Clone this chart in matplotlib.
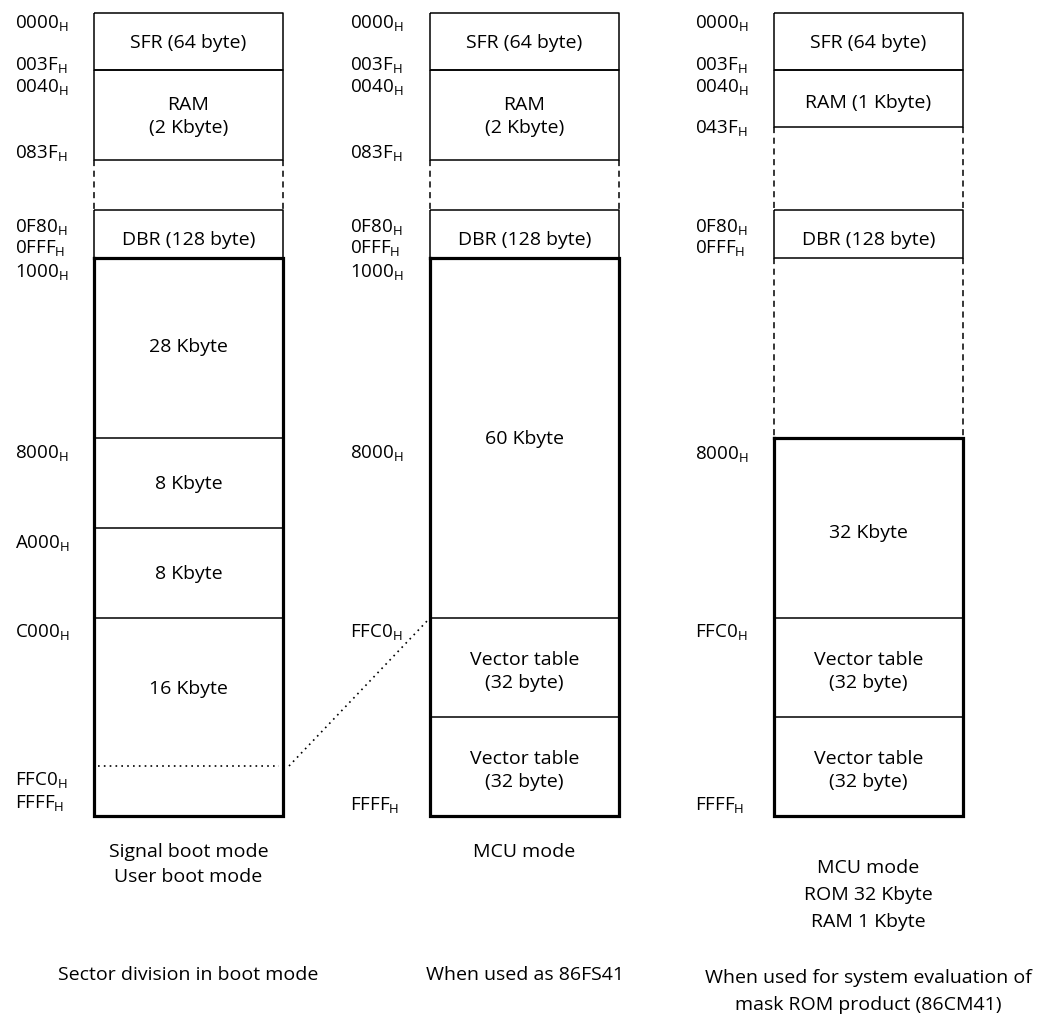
import matplotlib
matplotlib.use('Agg')
import matplotlib.pyplot as plt

plt.rcParams['font.family'] = ['Open Sans', 'DejaVu Sans']
plt.rcParams['mathtext.fontset'] = 'custom'
plt.rcParams['mathtext.rm'] = 'Open Sans'

# --- data: address labels and block names of the three memory maps ---
boot_addr = ['0000', '003F', '0040', '083F', '0F80', '0FFF', '1000',
             '8000', 'A000', 'C000', 'FFC0', 'FFFF']
mcu_addr = ['0000', '003F', '0040', '083F', '0F80', '0FFF', '1000',
            '8000', 'FFC0', 'FFFF']
eval_addr = ['0000', '003F', '0040', '043F', '0F80', '0FFF',
             '8000', 'FFC0', 'FFFF']

boot_blocks = ['SFR (64 byte)', 'RAM\n(2 Kbyte)', 'DBR (128 byte)',
               '28 Kbyte', '8 Kbyte', '8 Kbyte', '16 Kbyte']
mcu_blocks = ['SFR (64 byte)', 'RAM\n(2 Kbyte)', 'DBR (128 byte)',
              '60 Kbyte', 'Vector table\n(32 byte)', 'Vector table\n(32 byte)']
eval_blocks = ['SFR (64 byte)', 'RAM (1 Kbyte)', 'DBR (128 byte)',
               '32 Kbyte', 'Vector table\n(32 byte)', 'Vector table\n(32 byte)']

modes = ['Signal boot mode\nUser boot mode', 'MCU mode',
         'MCU mode\nROM 32 Kbyte\nRAM 1 Kbyte']
captions = ['Sector division in boot mode', 'When used as 86FS41',
            'When used for system evaluation of\nmask ROM product (86CM41)']

# --- layout (pixel coordinates, y downwards) ---
W, H = 1039, 1022
box_left = [94, 430, 774]
box_w = 189
addr_x = [15, 350, 695]

boot_addr_y = [28, 70, 92, 158, 232, 253, 277, 458, 548, 637, 785, 808]
mcu_addr_y = [28, 70, 92, 158, 232, 253, 277, 458, 637, 810]
eval_addr_y = [28, 70, 92, 133, 232, 253, 459, 637, 810]

# thin boxes on top: (top, bottom)
small_boxes = [[(13, 70), (70, 160), (210, 258)],
               [(13, 70), (70, 160), (210, 258)],
               [(13, 70), (70, 127), (210, 258)]]
gaps = [[(160, 210)], [(160, 210)], [(127, 210), (258, 438)]]

# thick frames: (top, bottom, dividers)
frames = [(258, 816, [438, 528, 618]),
          (258, 816, [618, 717]),
          (438, 816, [618, 717])]

# first-line baselines of the block texts and line step
block_base = [[48, 110, 245, 352, 489, 579, 694],
              [48, 110, 245, 444, 665, 764],
              [48, 108, 245, 538, 665, 764]]
block_step = 23

mode_base = [857, 857, 873]
mode_step = [25, 25, 27]
caption_base = [980, 980, 983]
caption_step = 27

fig = plt.figure(figsize=(W / 100, H / 100), dpi=100)
ax = fig.add_axes([0, 0, 1, 1])
ax.set_xlim(0, W)
ax.set_ylim(H, 0)
ax.axis('off')

FS = 14
thin = 1.1
thick = 2.3


def put_lines(x, y0, step, text):
    for k, line in enumerate(text.split('\n')):
        ax.text(x, y0 + k * step, line, fontsize=FS, ha='center',
                va='baseline')


columns = [
    (boot_addr, boot_addr_y, boot_blocks),
    (mcu_addr, mcu_addr_y, mcu_blocks),
    (eval_addr, eval_addr_y, eval_blocks),
]

for i, (addr, addr_y, blocks) in enumerate(columns):
    x0 = box_left[i]
    x1 = x0 + box_w
    xc = x0 + box_w / 2

    # address labels
    for a, y in zip(addr, addr_y):
        ax.text(addr_x[i], y, r'$\mathrm{%s_H}$' % a, fontsize=FS - 0.5,
                ha='left', va='baseline')

    # small thin boxes (SFR, RAM, DBR)
    for top, bot in small_boxes[i]:
        ax.plot([x0, x1, x1, x0, x0], [top, top, bot, bot, top],
                color='black', lw=thin, solid_capstyle='butt')

    # dashed sides in unused areas
    for top, bot in gaps[i]:
        for xx in (x0, x1):
            ax.plot([xx, xx], [top, bot], color='black', lw=thin,
                    ls=(0, (4, 3)))

    # thick frame with sectors
    top, bot, divs = frames[i]
    ax.plot([x0, x1, x1, x0, x0], [top, top, bot, bot, top],
            color='black', lw=thick, solid_joinstyle='miter')
    for d in divs:
        ax.plot([x0, x1], [d, d], color='black', lw=thin)

    for name, yb in zip(blocks, block_base[i]):
        put_lines(xc, yb, block_step, name)

    # mode and caption text
    put_lines(xc, mode_base[i], mode_step[i], modes[i])
    put_lines(xc, caption_base[i], caption_step, captions[i])

# dotted line for the vector area inside the boot map
ax.plot([box_left[0] + 4, box_left[0] + box_w - 4], [766, 766],
        color='black', lw=1.2, ls=(0, (1, 2.5)))
ax.plot([box_left[0] + box_w + 6, box_left[1] - 2], [766, 620],
        color='black', lw=1.2, ls=(0, (1, 2.5)))

fig.savefig('out.png', dpi=100)
